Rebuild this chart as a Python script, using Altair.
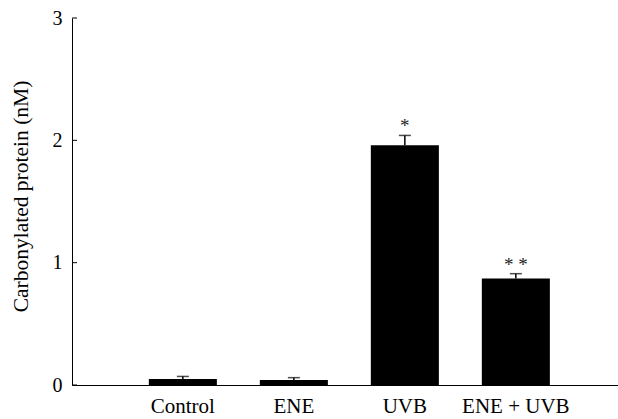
import altair as alt
import pandas as pd

groups = ["Control", "ENE", "UVB", "ENE + UVB"]
means = [0.05, 0.04, 1.96, 0.87]
errs = [0.02, 0.02, 0.08, 0.04]
stars = ["", "", "*", "* *"]
y_ticks = [0, 1, 2, 3]

df = pd.DataFrame({"group": groups, "mean": means, "err": errs, "star": stars})
df["top"] = df["mean"] + df["err"]
tick_df = pd.DataFrame({"v": y_ticks})
star_df = df[df["star"] != ""].reset_index(drop=True)

FONT = "Liberation Serif"

xs = alt.Scale(domain=groups, paddingInner=0.387, paddingOuter=0.653, align=0.53)
ys = alt.Scale(domain=[0, 3], nice=False)

x_enc = alt.X("group:N", scale=xs, sort=groups,
              axis=alt.Axis(title=None, ticks=False, labelAngle=0, labelPadding=10,
                            labelFontSize=21, labelFont=FONT, labelColor="black",
                            domainColor="black", domainWidth=1))
y_axis = alt.Axis(values=y_ticks, format="d", ticks=False, labelPadding=10,
                  labelFontSize=20, labelFont=FONT, labelColor="black",
                  domainColor="black", domainWidth=1, grid=False,
                  title="Carbonylated protein (nM)", titleFont=FONT, titleFontSize=21.5,
                  titleFontWeight="normal", titleColor="black",
                  titleX=-45, titleY=178, titleBaseline="alphabetic", titleAngle=-90)

base = alt.Chart(df)

bars = base.mark_bar(color="black").encode(
    x=x_enc,
    y=alt.Y("mean:Q", scale=ys, axis=y_axis),
)
err_rule = base.mark_rule(color="black", strokeWidth=1.5).encode(
    x=alt.X("group:N", scale=xs, sort=groups),
    y=alt.Y("mean:Q", scale=ys),
    y2="top:Q",
)
err_cap = base.mark_tick(color="black", size=12, thickness=1.5, orient="horizontal").encode(
    x=alt.X("group:N", scale=xs, sort=groups),
    y=alt.Y("top:Q", scale=ys),
)
star_text = alt.Chart(star_df).mark_text(font=FONT, fontSize=19, color="#222222",
                                         baseline="middle", dy=-9).encode(
    x=alt.X("group:N", scale=xs, sort=groups),
    y=alt.Y("top:Q", scale=ys),
    text="star:N",
)
yticks = alt.Chart(tick_df).mark_rule(color="black", strokeWidth=1).encode(
    y=alt.Y("v:Q", scale=ys),
    x=alt.value(0),
    x2=alt.value(5),
)

chart = alt.layer(bars, err_rule, err_cap, star_text, yticks).properties(
    width=546, height=367,
    autosize=alt.AutoSizeParams(type="none"),
    padding={"left": 72, "top": 18, "right": 0, "bottom": 34},
    background="white",
).configure_view(stroke=None).configure_axis(grid=False)

chart.save("out.html", embed_options={"renderer": "svg", "actions": False})
